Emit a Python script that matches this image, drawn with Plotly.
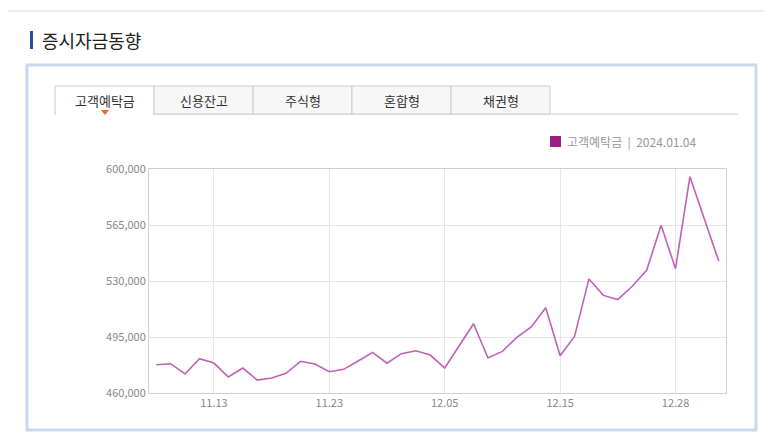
import plotly.graph_objects as go

dates = ["11.07", "11.08", "11.09", "11.10", "11.13", "11.14", "11.15", "11.16", "11.17", "11.20",
         "11.21", "11.22", "11.23", "11.24", "11.27", "11.28", "11.29", "11.30", "12.01", "12.04",
         "12.05", "12.06", "12.07", "12.08", "12.11", "12.12", "12.13", "12.14", "12.15", "12.18",
         "12.19", "12.20", "12.21", "12.22", "12.26", "12.27", "12.28", "01.02", "01.03", "01.04"]
deposits = [477700, 478300, 471900, 481400, 478700, 470000, 475600, 468100, 469400, 472300,
            479800, 478100, 473300, 474800, 480000, 485400, 478600, 484600, 486400, 483700,
            475600, 489800, 503300, 481900, 486000, 494800, 501300, 513300, 483300, 495400,
            531300, 521000, 518400, 526700, 536700, 564800, 537700, 595200, 569400, 542300]
tick_dates = ["11.13", "11.23", "12.05", "12.15", "12.28"]
y_ticks = [460000, 495000, 530000, 565000, 600000]
tabs = ["고객예탁금", "신용잔고", "주식형", "혼합형", "채권형"]

W, H = 772, 437
L, R, T, B = 141, 718, 161, 385
fig = go.Figure(go.Scatter(x=dates, y=deposits, mode="lines",
                           line=dict(color="#c060b8", width=1.6), hoverinfo="x+y"))

fig.update_layout(
    width=W, height=H, margin=dict(l=L, r=W - R, t=T, b=H - B, autoexpand=False),
    plot_bgcolor="white", paper_bgcolor="white", showlegend=False,
    font=dict(family="Noto Sans CJK KR", color="#888", size=11),
    xaxis=dict(type="category", tickvals=tick_dates, ticktext=tick_dates, automargin=False,
               showgrid=True, gridcolor="#e6e6e6", showline=True, linecolor="#d0d0d0",
               mirror=True, ticks="", range=[-0.5, len(deposits) - 0.5]),
    yaxis=dict(range=[460000, 600000], tickvals=y_ticks, tickformat=",", automargin=False,
               showgrid=True, gridcolor="#e6e6e6", showline=True, linecolor="#d0d0d0",
               mirror=True, ticks="", zeroline=False),
)

# pixel -> paper (paper is relative to the plot area)
def px_x(v):
    return (v - L) / (R - L)

def px_y(v):
    return (B - v) / (B - T)

def rect(x0, x1, y0, y1, **kw):
    return dict(type="rect", xref="paper", yref="paper", x0=px_x(x0), x1=px_x(x1),
                y0=px_y(y0), y1=px_y(y1), layer="below", **kw)

shapes = [
    dict(type="line", xref="paper", yref="paper", x0=px_x(0), x1=px_x(760), y0=px_y(3), y1=px_y(3),
         line=dict(color="#dddddd", width=1)),
    rect(22, 25, 23, 41, fillcolor="#2b4ea0", line=dict(width=0)),
    rect(19, 748, 57, 422, line=dict(color="#c8d8ee", width=3)),
    dict(type="line", xref="paper", yref="paper", x0=px_x(47), x1=px_x(730), y0=px_y(106), y1=px_y(106),
         line=dict(color="#cccccc", width=1)),
    rect(542, 553, 128, 139, fillcolor="#9a1f7f", line=dict(width=0)),
]
annotations = [
    dict(text="증시자금동향", xref="paper", yref="paper", x=px_x(32), y=px_y(32), xanchor="left",
         yanchor="middle", showarrow=False, font=dict(size=18, color="#222")),
    dict(text="고객예탁금  |  2024.01.04", xref="paper", yref="paper", x=px_x(557), y=px_y(134),
         xanchor="left", yanchor="middle", showarrow=False, font=dict(size=12, color="#999")),
]
for i, name in enumerate(tabs):
    x0, x1 = 47 + 99 * i, 146 + 99 * i
    active = i == 0
    shapes.append(dict(type="rect", xref="paper", yref="paper", x0=px_x(x0), x1=px_x(x1),
                       y0=px_y(106), y1=px_y(78),
                       fillcolor="white" if active else "#f7f7f7", line=dict(color="#cccccc", width=1)))
    annotations.append(dict(text=name, xref="paper", yref="paper", x=px_x((x0 + x1) / 2), y=px_y(92),
                            xanchor="center", yanchor="middle", showarrow=False,
                            font=dict(size=13, color="#333")))
# open bottom of the active tab + orange marker
shapes.append(dict(type="line", xref="paper", yref="paper", x0=px_x(48), x1=px_x(145),
                   y0=px_y(106), y1=px_y(106), line=dict(color="white", width=2)))
shapes.append(dict(type="path", xref="paper", yref="paper",
                   path=f"M {px_x(93)},{px_y(102)} L {px_x(101)},{px_y(102)} L {px_x(97)},{px_y(107)} Z",
                   fillcolor="#f26522", line=dict(width=0)))

fig.update_layout(shapes=shapes, annotations=annotations)
fig.write_html("out.html")
